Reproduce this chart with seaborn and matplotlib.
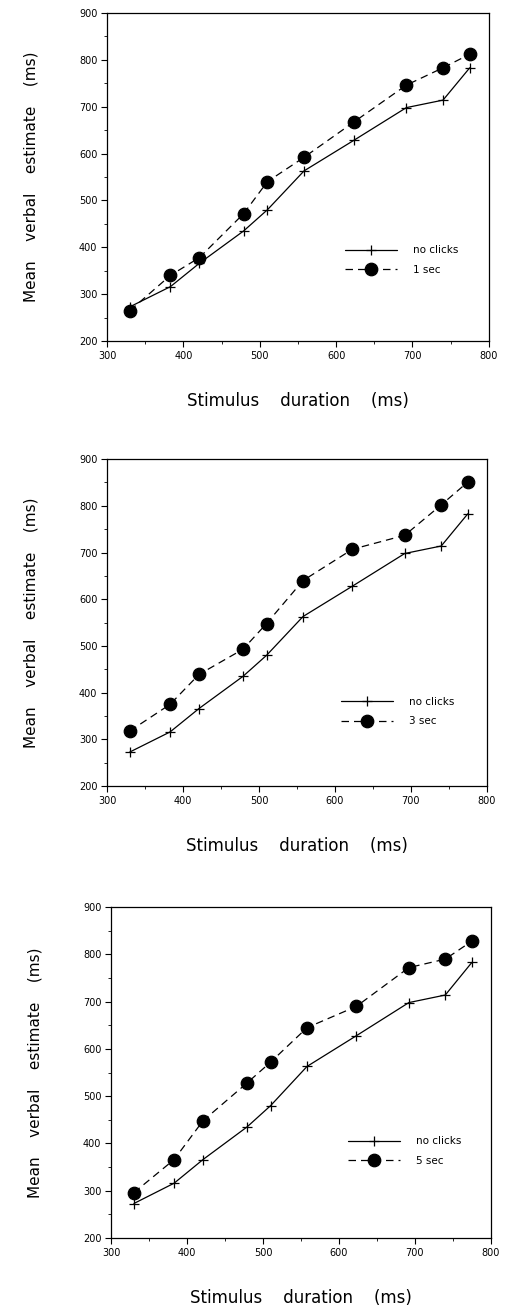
import pandas as pd
import matplotlib
matplotlib.use('Agg')
import matplotlib.pyplot as plt
import seaborn as sns
from matplotlib.ticker import MultipleLocator

# stimulus durations (ms), shared by all panels
durations = [330, 383, 421, 479, 510, 558, 623, 692, 740, 775]

# baseline condition, same in every panel
no_clicks = [273, 316, 366, 435, 480, 563, 628, 698, 714, 783]

# click-train conditions, one per panel
sec_1 = [265, 340, 378, 472, 540, 592, 667, 746, 783, 812]
sec_3 = [318, 375, 439, 493, 548, 640, 707, 737, 802, 851]
sec_5 = [296, 366, 448, 528, 572, 645, 690, 772, 790, 828]

panel_labels = ["1 sec", "3 sec", "5 sec"]
panel_values = [sec_1, sec_3, sec_5]

sns.set_style("ticks", {"text.color": "black", "axes.labelcolor": "black",
                        "xtick.color": "black", "ytick.color": "black"})
plt.rcParams['font.family'] = ['DejaVu Sans']

fig = plt.figure(figsize=(5.05, 13.08), dpi=100)

# axes boxes in figure fractions [left, bottom, width, height]
boxes = [
    [0.212, 0.7393, 0.756, 0.2508],
    [0.212, 0.3990, 0.752, 0.2500],
    [0.220, 0.0535, 0.752, 0.2530],
]
# legend anchors (axes fractions)
legend_pos = [(0.623, 0.247), (0.616, 0.228), (0.624, 0.263)]


def to_plus(line):
    # seaborn won't mix '+' with filled markers, so swap it in afterwards
    line.set_marker("+")
    line.set_markersize(7)
    line.set_markeredgecolor("black")
    line.set_markeredgewidth(0.9)


for box, label, vals, lpos in zip(boxes, panel_labels, panel_values, legend_pos):
    ax = fig.add_axes(box)
    df = pd.DataFrame({
        "duration": durations + durations,
        "estimate": no_clicks + vals,
        "condition": ["no clicks"] * len(durations) + [label] * len(durations),
    })
    sns.lineplot(
        data=df, x="duration", y="estimate", style="condition",
        markers={"no clicks": "P", label: "o"},
        dashes={"no clicks": "", label: (6, 4)},
        color="black", linewidth=0.9, markersize=9,
        markeredgecolor="black", markeredgewidth=0.9, ax=ax,
    )
    to_plus(ax.lines[0])

    ax.set_xlim(300, 800)
    ax.set_ylim(200, 900)
    ax.xaxis.set_major_locator(MultipleLocator(100))
    ax.xaxis.set_minor_locator(MultipleLocator(50))
    ax.yaxis.set_major_locator(MultipleLocator(100))
    ax.yaxis.set_minor_locator(MultipleLocator(50))
    ax.tick_params(which="major", direction="out", length=4, width=0.8, labelsize=7, pad=3)
    ax.tick_params(which="minor", direction="out", length=2, width=0.6)
    for side in ax.spines.values():
        side.set_visible(True)
        side.set_linewidth(0.9)
        side.set_color("black")

    ax.set_xlabel("Stimulus    duration    (ms)", fontsize=12)
    ax.set_ylabel("Mean    verbal    estimate    (ms)", fontsize=11)
    ax.xaxis.set_label_coords(0.5, -0.155)
    ax.yaxis.set_label_coords(-0.18, 0.5)

    handles, labels = ax.get_legend_handles_labels()
    for h in handles:
        h.set_markeredgecolor("black")
        if h.get_label() == "no clicks":
            to_plus(h)
    ax.legend(handles, labels, loc="center left", bbox_to_anchor=lpos,
              frameon=False, fontsize=7.5, handlelength=5, labelspacing=0.9,
              handletextpad=1.5, borderpad=0, borderaxespad=0)

fig.savefig("out.png", dpi=100)
